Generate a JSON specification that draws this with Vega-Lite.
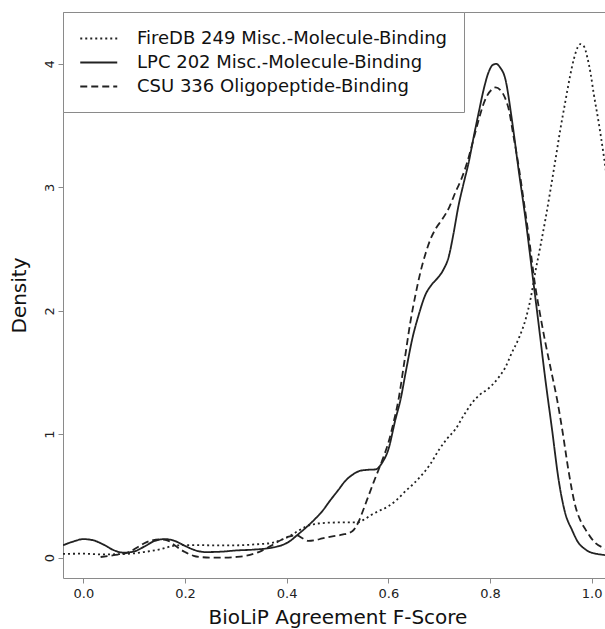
{
  "$schema": "https://vega.github.io/schema/vega-lite/v6.json",
  "width": 549,
  "height": 566,
  "autosize": {"type": "none"},
  "padding": {"left": 63, "top": 12, "right": 0, "bottom": 51},
  "background": "white",
  "config": {
    "view": {"stroke": "#8a8a8a", "strokeWidth": 1},
    "font": "DejaVu Sans"
  },
  "data": {
    "values": [
      {"s": "FireDB 249 Misc.-Molecule-Binding", "x": -0.04, "y": 0.03},
      {"s": "FireDB 249 Misc.-Molecule-Binding", "x": 0.0, "y": 0.032},
      {"s": "FireDB 249 Misc.-Molecule-Binding", "x": 0.04, "y": 0.026},
      {"s": "FireDB 249 Misc.-Molecule-Binding", "x": 0.08, "y": 0.03},
      {"s": "FireDB 249 Misc.-Molecule-Binding", "x": 0.1, "y": 0.035},
      {"s": "FireDB 249 Misc.-Molecule-Binding", "x": 0.119, "y": 0.045},
      {"s": "FireDB 249 Misc.-Molecule-Binding", "x": 0.135, "y": 0.055},
      {"s": "FireDB 249 Misc.-Molecule-Binding", "x": 0.15, "y": 0.067},
      {"s": "FireDB 249 Misc.-Molecule-Binding", "x": 0.162, "y": 0.08},
      {"s": "FireDB 249 Misc.-Molecule-Binding", "x": 0.175, "y": 0.094},
      {"s": "FireDB 249 Misc.-Molecule-Binding", "x": 0.19, "y": 0.1},
      {"s": "FireDB 249 Misc.-Molecule-Binding", "x": 0.22, "y": 0.102},
      {"s": "FireDB 249 Misc.-Molecule-Binding", "x": 0.25, "y": 0.1},
      {"s": "FireDB 249 Misc.-Molecule-Binding", "x": 0.3, "y": 0.1},
      {"s": "FireDB 249 Misc.-Molecule-Binding", "x": 0.34, "y": 0.108},
      {"s": "FireDB 249 Misc.-Molecule-Binding", "x": 0.371, "y": 0.12},
      {"s": "FireDB 249 Misc.-Molecule-Binding", "x": 0.39, "y": 0.145},
      {"s": "FireDB 249 Misc.-Molecule-Binding", "x": 0.404, "y": 0.17},
      {"s": "FireDB 249 Misc.-Molecule-Binding", "x": 0.42, "y": 0.21},
      {"s": "FireDB 249 Misc.-Molecule-Binding", "x": 0.437, "y": 0.25},
      {"s": "FireDB 249 Misc.-Molecule-Binding", "x": 0.455, "y": 0.272},
      {"s": "FireDB 249 Misc.-Molecule-Binding", "x": 0.47, "y": 0.28},
      {"s": "FireDB 249 Misc.-Molecule-Binding", "x": 0.502, "y": 0.285},
      {"s": "FireDB 249 Misc.-Molecule-Binding", "x": 0.538, "y": 0.285},
      {"s": "FireDB 249 Misc.-Molecule-Binding", "x": 0.553, "y": 0.31},
      {"s": "FireDB 249 Misc.-Molecule-Binding", "x": 0.568, "y": 0.35},
      {"s": "FireDB 249 Misc.-Molecule-Binding", "x": 0.585, "y": 0.385},
      {"s": "FireDB 249 Misc.-Molecule-Binding", "x": 0.6, "y": 0.416},
      {"s": "FireDB 249 Misc.-Molecule-Binding", "x": 0.617, "y": 0.47},
      {"s": "FireDB 249 Misc.-Molecule-Binding", "x": 0.634, "y": 0.54},
      {"s": "FireDB 249 Misc.-Molecule-Binding", "x": 0.65, "y": 0.6},
      {"s": "FireDB 249 Misc.-Molecule-Binding", "x": 0.666, "y": 0.67},
      {"s": "FireDB 249 Misc.-Molecule-Binding", "x": 0.683, "y": 0.76},
      {"s": "FireDB 249 Misc.-Molecule-Binding", "x": 0.699, "y": 0.87},
      {"s": "FireDB 249 Misc.-Molecule-Binding", "x": 0.715, "y": 0.96},
      {"s": "FireDB 249 Misc.-Molecule-Binding", "x": 0.732, "y": 1.04},
      {"s": "FireDB 249 Misc.-Molecule-Binding", "x": 0.748, "y": 1.15},
      {"s": "FireDB 249 Misc.-Molecule-Binding", "x": 0.765, "y": 1.255},
      {"s": "FireDB 249 Misc.-Molecule-Binding", "x": 0.78, "y": 1.32},
      {"s": "FireDB 249 Misc.-Molecule-Binding", "x": 0.797, "y": 1.37},
      {"s": "FireDB 249 Misc.-Molecule-Binding", "x": 0.817, "y": 1.46},
      {"s": "FireDB 249 Misc.-Molecule-Binding", "x": 0.83, "y": 1.54},
      {"s": "FireDB 249 Misc.-Molecule-Binding", "x": 0.843, "y": 1.66},
      {"s": "FireDB 249 Misc.-Molecule-Binding", "x": 0.857, "y": 1.78},
      {"s": "FireDB 249 Misc.-Molecule-Binding", "x": 0.87, "y": 1.93},
      {"s": "FireDB 249 Misc.-Molecule-Binding", "x": 0.88, "y": 2.1},
      {"s": "FireDB 249 Misc.-Molecule-Binding", "x": 0.889, "y": 2.31},
      {"s": "FireDB 249 Misc.-Molecule-Binding", "x": 0.899, "y": 2.52},
      {"s": "FireDB 249 Misc.-Molecule-Binding", "x": 0.909, "y": 2.74},
      {"s": "FireDB 249 Misc.-Molecule-Binding", "x": 0.919, "y": 2.98},
      {"s": "FireDB 249 Misc.-Molecule-Binding", "x": 0.929, "y": 3.23},
      {"s": "FireDB 249 Misc.-Molecule-Binding", "x": 0.938, "y": 3.46},
      {"s": "FireDB 249 Misc.-Molecule-Binding", "x": 0.948, "y": 3.69},
      {"s": "FireDB 249 Misc.-Molecule-Binding", "x": 0.957, "y": 3.89},
      {"s": "FireDB 249 Misc.-Molecule-Binding", "x": 0.965, "y": 4.04},
      {"s": "FireDB 249 Misc.-Molecule-Binding", "x": 0.972, "y": 4.13},
      {"s": "FireDB 249 Misc.-Molecule-Binding", "x": 0.978, "y": 4.16},
      {"s": "FireDB 249 Misc.-Molecule-Binding", "x": 0.985, "y": 4.14},
      {"s": "FireDB 249 Misc.-Molecule-Binding", "x": 0.991, "y": 4.06},
      {"s": "FireDB 249 Misc.-Molecule-Binding", "x": 0.998, "y": 3.92},
      {"s": "FireDB 249 Misc.-Molecule-Binding", "x": 1.004, "y": 3.76},
      {"s": "FireDB 249 Misc.-Molecule-Binding", "x": 1.014, "y": 3.52},
      {"s": "FireDB 249 Misc.-Molecule-Binding", "x": 1.024, "y": 3.25},
      {"s": "FireDB 249 Misc.-Molecule-Binding", "x": 1.04, "y": 2.75},

      {"s": "LPC 202 Misc.-Molecule-Binding", "x": -0.04, "y": 0.1},
      {"s": "LPC 202 Misc.-Molecule-Binding", "x": -0.02, "y": 0.13},
      {"s": "LPC 202 Misc.-Molecule-Binding", "x": 0.0, "y": 0.15},
      {"s": "LPC 202 Misc.-Molecule-Binding", "x": 0.02, "y": 0.14},
      {"s": "LPC 202 Misc.-Molecule-Binding", "x": 0.04, "y": 0.105},
      {"s": "LPC 202 Misc.-Molecule-Binding", "x": 0.06, "y": 0.06},
      {"s": "LPC 202 Misc.-Molecule-Binding", "x": 0.08, "y": 0.04},
      {"s": "LPC 202 Misc.-Molecule-Binding", "x": 0.1, "y": 0.05},
      {"s": "LPC 202 Misc.-Molecule-Binding", "x": 0.12, "y": 0.09},
      {"s": "LPC 202 Misc.-Molecule-Binding", "x": 0.14, "y": 0.135},
      {"s": "LPC 202 Misc.-Molecule-Binding", "x": 0.16, "y": 0.15},
      {"s": "LPC 202 Misc.-Molecule-Binding", "x": 0.18, "y": 0.135},
      {"s": "LPC 202 Misc.-Molecule-Binding", "x": 0.2, "y": 0.095},
      {"s": "LPC 202 Misc.-Molecule-Binding", "x": 0.22, "y": 0.06},
      {"s": "LPC 202 Misc.-Molecule-Binding", "x": 0.24, "y": 0.045},
      {"s": "LPC 202 Misc.-Molecule-Binding", "x": 0.27, "y": 0.048},
      {"s": "LPC 202 Misc.-Molecule-Binding", "x": 0.3, "y": 0.058},
      {"s": "LPC 202 Misc.-Molecule-Binding", "x": 0.335, "y": 0.065},
      {"s": "LPC 202 Misc.-Molecule-Binding", "x": 0.37, "y": 0.08},
      {"s": "LPC 202 Misc.-Molecule-Binding", "x": 0.39, "y": 0.1},
      {"s": "LPC 202 Misc.-Molecule-Binding", "x": 0.405, "y": 0.13},
      {"s": "LPC 202 Misc.-Molecule-Binding", "x": 0.42, "y": 0.18},
      {"s": "LPC 202 Misc.-Molecule-Binding", "x": 0.437, "y": 0.24},
      {"s": "LPC 202 Misc.-Molecule-Binding", "x": 0.455, "y": 0.31},
      {"s": "LPC 202 Misc.-Molecule-Binding", "x": 0.47, "y": 0.376},
      {"s": "LPC 202 Misc.-Molecule-Binding", "x": 0.485, "y": 0.46},
      {"s": "LPC 202 Misc.-Molecule-Binding", "x": 0.502, "y": 0.55},
      {"s": "LPC 202 Misc.-Molecule-Binding", "x": 0.515, "y": 0.62},
      {"s": "LPC 202 Misc.-Molecule-Binding", "x": 0.529, "y": 0.67},
      {"s": "LPC 202 Misc.-Molecule-Binding", "x": 0.542, "y": 0.7},
      {"s": "LPC 202 Misc.-Molecule-Binding", "x": 0.555, "y": 0.71},
      {"s": "LPC 202 Misc.-Molecule-Binding", "x": 0.575, "y": 0.715},
      {"s": "LPC 202 Misc.-Molecule-Binding", "x": 0.588, "y": 0.77},
      {"s": "LPC 202 Misc.-Molecule-Binding", "x": 0.6, "y": 0.876},
      {"s": "LPC 202 Misc.-Molecule-Binding", "x": 0.614, "y": 1.12},
      {"s": "LPC 202 Misc.-Molecule-Binding", "x": 0.624, "y": 1.28},
      {"s": "LPC 202 Misc.-Molecule-Binding", "x": 0.635, "y": 1.52},
      {"s": "LPC 202 Misc.-Molecule-Binding", "x": 0.647, "y": 1.77},
      {"s": "LPC 202 Misc.-Molecule-Binding", "x": 0.66, "y": 1.97},
      {"s": "LPC 202 Misc.-Molecule-Binding", "x": 0.673, "y": 2.13},
      {"s": "LPC 202 Misc.-Molecule-Binding", "x": 0.685, "y": 2.21},
      {"s": "LPC 202 Misc.-Molecule-Binding", "x": 0.696, "y": 2.26},
      {"s": "LPC 202 Misc.-Molecule-Binding", "x": 0.708, "y": 2.33},
      {"s": "LPC 202 Misc.-Molecule-Binding", "x": 0.719, "y": 2.44},
      {"s": "LPC 202 Misc.-Molecule-Binding", "x": 0.728, "y": 2.62},
      {"s": "LPC 202 Misc.-Molecule-Binding", "x": 0.738, "y": 2.85},
      {"s": "LPC 202 Misc.-Molecule-Binding", "x": 0.748, "y": 3.03},
      {"s": "LPC 202 Misc.-Molecule-Binding", "x": 0.758, "y": 3.2},
      {"s": "LPC 202 Misc.-Molecule-Binding", "x": 0.768, "y": 3.41},
      {"s": "LPC 202 Misc.-Molecule-Binding", "x": 0.778, "y": 3.61},
      {"s": "LPC 202 Misc.-Molecule-Binding", "x": 0.788, "y": 3.8},
      {"s": "LPC 202 Misc.-Molecule-Binding", "x": 0.797, "y": 3.93},
      {"s": "LPC 202 Misc.-Molecule-Binding", "x": 0.805, "y": 3.99},
      {"s": "LPC 202 Misc.-Molecule-Binding", "x": 0.812, "y": 4.0},
      {"s": "LPC 202 Misc.-Molecule-Binding", "x": 0.82, "y": 3.97},
      {"s": "LPC 202 Misc.-Molecule-Binding", "x": 0.83, "y": 3.88},
      {"s": "LPC 202 Misc.-Molecule-Binding", "x": 0.843, "y": 3.55},
      {"s": "LPC 202 Misc.-Molecule-Binding", "x": 0.856, "y": 3.15},
      {"s": "LPC 202 Misc.-Molecule-Binding", "x": 0.87, "y": 2.74},
      {"s": "LPC 202 Misc.-Molecule-Binding", "x": 0.883, "y": 2.31},
      {"s": "LPC 202 Misc.-Molecule-Binding", "x": 0.896, "y": 1.88},
      {"s": "LPC 202 Misc.-Molecule-Binding", "x": 0.909, "y": 1.44},
      {"s": "LPC 202 Misc.-Molecule-Binding", "x": 0.922, "y": 1.04},
      {"s": "LPC 202 Misc.-Molecule-Binding", "x": 0.935, "y": 0.63},
      {"s": "LPC 202 Misc.-Molecule-Binding", "x": 0.948, "y": 0.36},
      {"s": "LPC 202 Misc.-Molecule-Binding", "x": 0.961, "y": 0.227},
      {"s": "LPC 202 Misc.-Molecule-Binding", "x": 0.974, "y": 0.12},
      {"s": "LPC 202 Misc.-Molecule-Binding", "x": 0.985, "y": 0.075},
      {"s": "LPC 202 Misc.-Molecule-Binding", "x": 0.994, "y": 0.05},
      {"s": "LPC 202 Misc.-Molecule-Binding", "x": 1.007, "y": 0.033},
      {"s": "LPC 202 Misc.-Molecule-Binding", "x": 1.02, "y": 0.024},
      {"s": "LPC 202 Misc.-Molecule-Binding", "x": 1.04, "y": 0.015},

      {"s": "CSU 336 Oligopeptide-Binding", "x": 0.034, "y": 0.005},
      {"s": "CSU 336 Oligopeptide-Binding", "x": 0.06, "y": 0.02},
      {"s": "CSU 336 Oligopeptide-Binding", "x": 0.09, "y": 0.045},
      {"s": "CSU 336 Oligopeptide-Binding", "x": 0.105, "y": 0.08},
      {"s": "CSU 336 Oligopeptide-Binding", "x": 0.119, "y": 0.115},
      {"s": "CSU 336 Oligopeptide-Binding", "x": 0.135, "y": 0.14},
      {"s": "CSU 336 Oligopeptide-Binding", "x": 0.15, "y": 0.148},
      {"s": "CSU 336 Oligopeptide-Binding", "x": 0.165, "y": 0.14},
      {"s": "CSU 336 Oligopeptide-Binding", "x": 0.178, "y": 0.105},
      {"s": "CSU 336 Oligopeptide-Binding", "x": 0.19, "y": 0.07},
      {"s": "CSU 336 Oligopeptide-Binding", "x": 0.2, "y": 0.045},
      {"s": "CSU 336 Oligopeptide-Binding", "x": 0.217, "y": 0.015},
      {"s": "CSU 336 Oligopeptide-Binding", "x": 0.235, "y": 0.003},
      {"s": "CSU 336 Oligopeptide-Binding", "x": 0.257, "y": 0.0},
      {"s": "CSU 336 Oligopeptide-Binding", "x": 0.28, "y": 0.0},
      {"s": "CSU 336 Oligopeptide-Binding", "x": 0.3, "y": 0.005},
      {"s": "CSU 336 Oligopeptide-Binding", "x": 0.32, "y": 0.015},
      {"s": "CSU 336 Oligopeptide-Binding", "x": 0.345, "y": 0.045},
      {"s": "CSU 336 Oligopeptide-Binding", "x": 0.371, "y": 0.1},
      {"s": "CSU 336 Oligopeptide-Binding", "x": 0.39, "y": 0.145},
      {"s": "CSU 336 Oligopeptide-Binding", "x": 0.404, "y": 0.17},
      {"s": "CSU 336 Oligopeptide-Binding", "x": 0.42, "y": 0.18},
      {"s": "CSU 336 Oligopeptide-Binding", "x": 0.432, "y": 0.155},
      {"s": "CSU 336 Oligopeptide-Binding", "x": 0.443, "y": 0.135},
      {"s": "CSU 336 Oligopeptide-Binding", "x": 0.455, "y": 0.14},
      {"s": "CSU 336 Oligopeptide-Binding", "x": 0.47, "y": 0.155},
      {"s": "CSU 336 Oligopeptide-Binding", "x": 0.49, "y": 0.172},
      {"s": "CSU 336 Oligopeptide-Binding", "x": 0.509, "y": 0.186},
      {"s": "CSU 336 Oligopeptide-Binding", "x": 0.529, "y": 0.213},
      {"s": "CSU 336 Oligopeptide-Binding", "x": 0.542, "y": 0.295},
      {"s": "CSU 336 Oligopeptide-Binding", "x": 0.551, "y": 0.39},
      {"s": "CSU 336 Oligopeptide-Binding", "x": 0.561, "y": 0.5},
      {"s": "CSU 336 Oligopeptide-Binding", "x": 0.571, "y": 0.61},
      {"s": "CSU 336 Oligopeptide-Binding", "x": 0.581, "y": 0.714},
      {"s": "CSU 336 Oligopeptide-Binding", "x": 0.59, "y": 0.81},
      {"s": "CSU 336 Oligopeptide-Binding", "x": 0.6, "y": 0.93},
      {"s": "CSU 336 Oligopeptide-Binding", "x": 0.61, "y": 1.09},
      {"s": "CSU 336 Oligopeptide-Binding", "x": 0.62, "y": 1.28},
      {"s": "CSU 336 Oligopeptide-Binding", "x": 0.632, "y": 1.6},
      {"s": "CSU 336 Oligopeptide-Binding", "x": 0.643, "y": 1.9},
      {"s": "CSU 336 Oligopeptide-Binding", "x": 0.653, "y": 2.12},
      {"s": "CSU 336 Oligopeptide-Binding", "x": 0.663, "y": 2.31},
      {"s": "CSU 336 Oligopeptide-Binding", "x": 0.673, "y": 2.46},
      {"s": "CSU 336 Oligopeptide-Binding", "x": 0.683, "y": 2.58},
      {"s": "CSU 336 Oligopeptide-Binding", "x": 0.694, "y": 2.67},
      {"s": "CSU 336 Oligopeptide-Binding", "x": 0.706, "y": 2.74},
      {"s": "CSU 336 Oligopeptide-Binding", "x": 0.72, "y": 2.84},
      {"s": "CSU 336 Oligopeptide-Binding", "x": 0.732, "y": 2.96},
      {"s": "CSU 336 Oligopeptide-Binding", "x": 0.744, "y": 3.07},
      {"s": "CSU 336 Oligopeptide-Binding", "x": 0.755, "y": 3.2},
      {"s": "CSU 336 Oligopeptide-Binding", "x": 0.767, "y": 3.38},
      {"s": "CSU 336 Oligopeptide-Binding", "x": 0.778, "y": 3.55},
      {"s": "CSU 336 Oligopeptide-Binding", "x": 0.786, "y": 3.66},
      {"s": "CSU 336 Oligopeptide-Binding", "x": 0.794, "y": 3.74},
      {"s": "CSU 336 Oligopeptide-Binding", "x": 0.803, "y": 3.79},
      {"s": "CSU 336 Oligopeptide-Binding", "x": 0.811, "y": 3.81},
      {"s": "CSU 336 Oligopeptide-Binding", "x": 0.82, "y": 3.79},
      {"s": "CSU 336 Oligopeptide-Binding", "x": 0.83, "y": 3.72},
      {"s": "CSU 336 Oligopeptide-Binding", "x": 0.837, "y": 3.63},
      {"s": "CSU 336 Oligopeptide-Binding", "x": 0.846, "y": 3.42},
      {"s": "CSU 336 Oligopeptide-Binding", "x": 0.856, "y": 3.18},
      {"s": "CSU 336 Oligopeptide-Binding", "x": 0.866, "y": 2.9},
      {"s": "CSU 336 Oligopeptide-Binding", "x": 0.876, "y": 2.61},
      {"s": "CSU 336 Oligopeptide-Binding", "x": 0.889, "y": 2.2},
      {"s": "CSU 336 Oligopeptide-Binding", "x": 0.899, "y": 1.96},
      {"s": "CSU 336 Oligopeptide-Binding", "x": 0.909, "y": 1.74},
      {"s": "CSU 336 Oligopeptide-Binding", "x": 0.92, "y": 1.52},
      {"s": "CSU 336 Oligopeptide-Binding", "x": 0.932, "y": 1.28},
      {"s": "CSU 336 Oligopeptide-Binding", "x": 0.942, "y": 1.04},
      {"s": "CSU 336 Oligopeptide-Binding", "x": 0.955, "y": 0.69},
      {"s": "CSU 336 Oligopeptide-Binding", "x": 0.968, "y": 0.416},
      {"s": "CSU 336 Oligopeptide-Binding", "x": 0.978, "y": 0.3},
      {"s": "CSU 336 Oligopeptide-Binding", "x": 0.988, "y": 0.227},
      {"s": "CSU 336 Oligopeptide-Binding", "x": 0.997, "y": 0.17},
      {"s": "CSU 336 Oligopeptide-Binding", "x": 1.007, "y": 0.12},
      {"s": "CSU 336 Oligopeptide-Binding", "x": 1.024, "y": 0.078},
      {"s": "CSU 336 Oligopeptide-Binding", "x": 1.04, "y": 0.05}
    ]
  },
  "mark": {"type": "line", "interpolate": "monotone", "strokeWidth": 1.8, "color": "#222222", "clip": true},
  "encoding": {
    "x": {
      "field": "x", "type": "quantitative",
      "scale": {"domain": [-0.04, 1.04], "nice": false, "zero": false},
      "axis": {
        "values": [0, 0.2, 0.4, 0.6, 0.8, 1.0], "format": ".1f", "grid": false, "domain": false,
        "tickSize": 5, "tickColor": "#8a8a8a", "labelPadding": 4, "labelFontSize": 13, "labelColor": "#222222",
        "labelFont": "DejaVu Sans", "labelFlush": false, "labelOverlap": false,
        "title": "BioLiP Agreement F-Score", "titleFont": "DejaVu Sans", "titleFontSize": 20, "titleFontWeight": "normal",
        "titleColor": "#111111", "titleBaseline": "alphabetic", "titleY": 45
      }
    },
    "y": {
      "field": "y", "type": "quantitative",
      "scale": {"domain": [-0.165, 4.42], "nice": false, "zero": false},
      "axis": {
        "values": [0, 1, 2, 3, 4], "format": "d", "grid": false, "domain": false,
        "tickSize": 5, "tickColor": "#8a8a8a", "labelPadding": 5, "labelFontSize": 13, "labelColor": "#222222",
        "labelFont": "DejaVu Sans", "labelAngle": 270, "labelAlign": "center", "labelBaseline": "alphabetic",
        "labelFlush": false, "labelOverlap": false,
        "title": "Density", "titleFont": "DejaVu Sans", "titleFontSize": 20, "titleFontWeight": "normal",
        "titleColor": "#111111", "titleAngle": 270, "titleAlign": "center", "titleBaseline": "alphabetic",
        "titleX": -38, "titleY": 283
      }
    },
    "strokeDash": {
      "field": "s", "type": "nominal",
      "scale": {
        "domain": ["FireDB 249 Misc.-Molecule-Binding", "LPC 202 Misc.-Molecule-Binding", "CSU 336 Oligopeptide-Binding"],
        "range": [[2, 3], [1, 0], [7, 4]]
      },
      "legend": {
        "title": null, "orient": "none", "legendX": 0, "legendY": 0,
        "padding": 16, "strokeColor": "#8a8a8a", "fillColor": "white",
        "symbolType": "M-1,0H3", "symbolSize": 342, "symbolStrokeWidth": 1.8, "symbolStrokeColor": "#222222",
        "symbolFillColor": "transparent",
        "labelFont": "DejaVu Sans", "labelFontSize": 18, "labelColor": "#111111", "labelOffset": 37,
        "labelLimit": 0, "rowPadding": 4
      }
    }
  }
}
